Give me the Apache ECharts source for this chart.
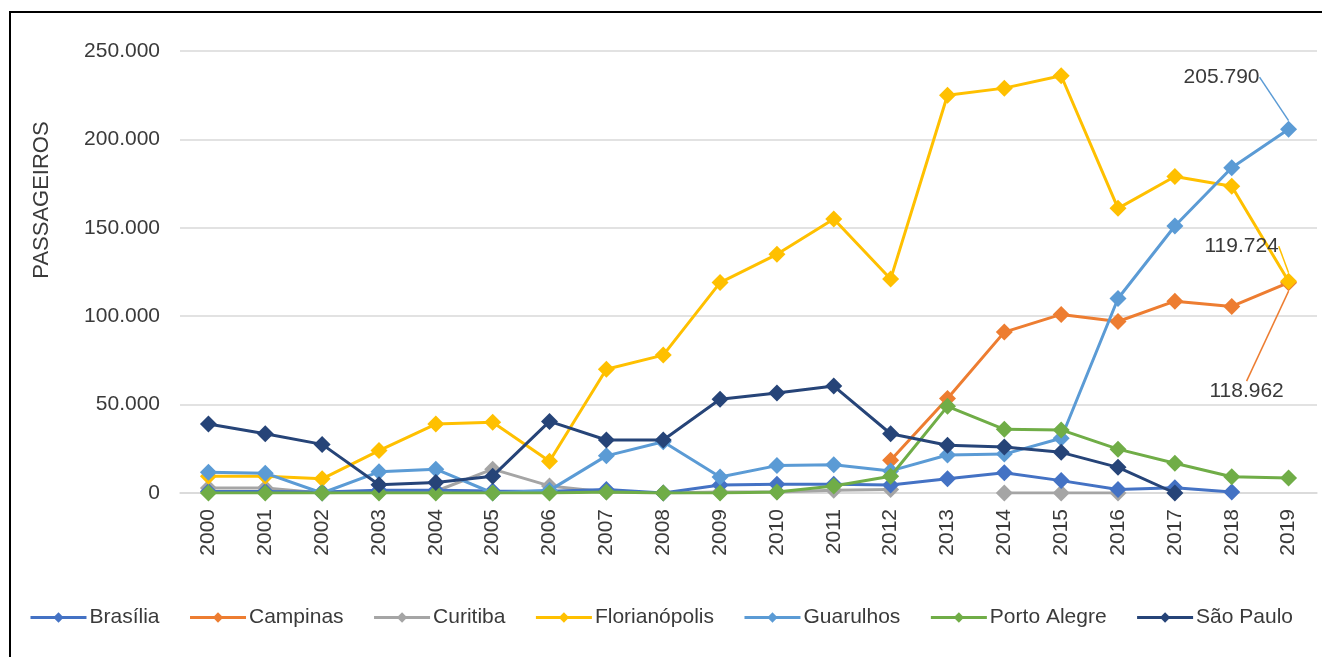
<!DOCTYPE html>
<html>
<head>
<meta charset="utf-8">
<script src="https://cdn.jsdelivr.net/npm/echarts@6/dist/echarts.min.js"></script>
<style>
  html, body { margin: 0; padding: 0; background: #fff; }
  #chart { width: 1322px; height: 657px; }
</style>
</head>
<body>
<div id="chart"></div>
<script>
// anos (eixo x)
const years = ['2000','2001','2002','2003','2004','2005','2006','2007','2008','2009',
  '2010','2011','2012','2013','2014','2015','2016','2017','2018','2019']

// passageiros por aeroporto
const brasilia = [800, 800, 500, 1500, 1500, 1200, 1000, 2000, 0, 4500, 5000, 5000, 4500, 8000, 11500, 7000, 2000, 3000, 500, null]
const campinas = [null, null, null, null, null, null, null, null, null, null, null, null, 18500, 53500, 91000, 101000, 97000, 108500, 105500, 118962]
const curitiba = [2800, 2800, 0, 1000, 1000, 13500, 4000, 500, 0, 500, 500, 1500, 2000, null, 0, 0, 0, null, null, null]
const florianopolis = [9500, 9500, 8000, 24000, 39000, 40000, 18000, 70000, 78000, 119000, 135000, 155000, 121000, 225000, 229000, 236000, 161000, 179000, 173500, 119724]
const guarulhos = [11700, 11200, 0, 12000, 13500, 0, 1500, 21000, 29000, 9000, 15500, 16000, 12500, 21500, 22000, 31000, 110000, 151000, 184000, 205790]
const portoAlegre = [0, 0, 0, 0, 0, 0, 0, 500, 0, 0, 500, 4000, 9500, 49000, 36000, 35700, 24800, 16800, 9200, 8500]
const saoPaulo = [39000, 33500, 27500, 4700, 6000, 9500, 40500, 30000, 30000, 53000, 56500, 60500, 33500, 27000, 26000, 23000, 14500, 0, null, null]

const fmt = v => Math.round(v).toString().replace(/\B(?=(\d{3})+(?!\d))/g, '.')
const FONT = 'Liberation Sans, Arial, sans-serif'
const TXT = '#3a3a3a'

// só o último ponto recebe rótulo
const labelLast = arr => arr.map((v, i) => {
  if (i !== arr.length - 1) return v
  return {
    value: v,
    label: {
      show: true, position: 'inside', formatter: p => fmt(p.value),
      fontFamily: FONT, fontSize: 21, color: TXT
    }
  }
})

const makeSeries = (name, data, color, z, callout) => {
  const s = {
    name: name,
    type: 'line',
    data: data,
    z: z,
    symbol: 'diamond',
    symbolSize: 17,
    showAllSymbol: true,
    connectNulls: false,
    itemStyle: { color: color },
    lineStyle: { color: color, width: 3 },
    emphasis: { disabled: true },
    animation: false
  }
  if (callout) {
    s.data = labelLast(data)
    s.labelLine = { show: true, lineStyle: { color: color, width: 1.5 } }
    s.labelLayout = { dx: callout[0], dy: callout[1] }
  }
  return s
}

const series = [
  makeSeries('Brasília', brasilia, '#4472C4', 2),
  makeSeries('Campinas', campinas, '#ED7D31', 3, [-42, 109]),
  makeSeries('Curitiba', curitiba, '#A5A5A5', 1),
  makeSeries('Florianópolis', florianopolis, '#FFC000', 4, [-47, -35]),
  makeSeries('Guarulhos', guarulhos, '#5B9BD5', 5, [-67, -52]),
  makeSeries('Porto Alegre', portoAlegre, '#70AD47', 6),
  makeSeries('São Paulo', saoPaulo, '#264478', 7)
]

const chart = echarts.init(document.getElementById('chart'))
chart.setOption({
  backgroundColor: '#fff',
  animation: false,
  grid: { left: 180, right: 5, top: 51, bottom: 164 },
  xAxis: {
    type: 'category',
    data: years,
    boundaryGap: true,
    axisLine: { show: true, lineStyle: { color: '#d9d9d9', width: 1.5 } },
    axisTick: { show: false },
    axisLabel: { rotate: 90, fontFamily: FONT, fontSize: 21, color: TXT, margin: 16, interval: 0 }
  },
  yAxis: {
    type: 'value',
    min: 0,
    max: 250000,
    interval: 50000,
    axisLine: { show: false },
    axisTick: { show: false },
    splitLine: { lineStyle: { color: '#d9d9d9', width: 1.5 } },
    axisLabel: { fontFamily: FONT, fontSize: 21, color: TXT, margin: 20, formatter: v => fmt(v) }
  },
  legend: {
    top: 602,
    left: 'center',
    itemWidth: 56,
    itemHeight: 13,
    itemGap: 29,
    lineStyle: { width: 3 },
    textStyle: { fontFamily: FONT, fontSize: 21, color: TXT, padding: [0, 0, 0, -2] },
    data: series.map(s => s.name)
  },
  graphic: [
    {
      type: 'rect',
      shape: { x: 10, y: 12, width: 1340, height: 700 },
      style: { fill: null, stroke: '#000', lineWidth: 2 },
      silent: true
    },
    {
      type: 'text',
      x: 42, y: 200,
      rotation: Math.PI / 2,
      style: {
        text: 'PASSAGEIROS', fontFamily: FONT, fontSize: 22, fill: TXT,
        textAlign: 'center', textVerticalAlign: 'middle'
      }
    }
  ],
  series: series
})
</script>
</body>
</html>
